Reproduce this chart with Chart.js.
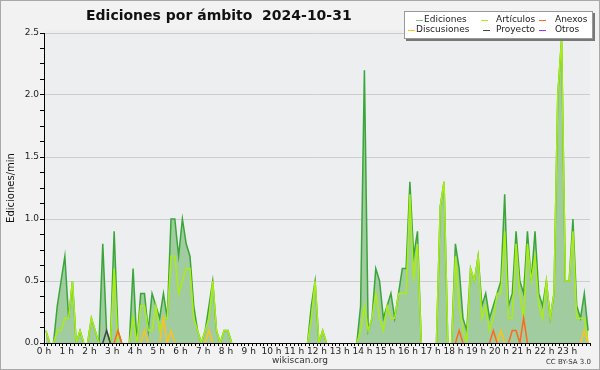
<!DOCTYPE html>
<html>
<head>
<meta charset="utf-8">
<title>Ediciones por ámbito 2024-10-31</title>
<script src="https://cdn.jsdelivr.net/npm/chart.js@4.4.1/dist/chart.umd.min.js"></script>
<style>
  html, body { margin: 0; padding: 0; background: #f2f2f2; }
  canvas { display: block; }
</style>
</head>
<body>
<canvas id="chart" width="600" height="370"></canvas>
<script>
// ── Data: edits per minute, averaged over 10-minute bins (6 per hour) ──
const binMinutes = 10;

// one row per hour, 00h → 23h
const ediciones = [
  0.1, 0, 0, 0.3, 0.5, 0.7,
  0.2, 0.5, 0, 0.1, 0, 0,
  0.2, 0.1, 0, 0.8, 0.1, 0,
  0.9, 0.1, 0, 0, 0, 0.6,
  0, 0.4, 0.4, 0.1, 0.4, 0.3,
  0.2, 0.4, 0.2, 1.0, 1.0, 0.7,
  1.0, 0.8, 0.7, 0.3, 0.1, 0,
  0.1, 0.3, 0.5, 0.1, 0, 0.1,
  0.1, 0, 0, 0, 0, 0,
  0, 0, 0, 0, 0, 0,
  0, 0, 0, 0, 0, 0,
  0, 0, 0, 0, 0.3, 0.5,
  0, 0.1, 0, 0, 0, 0,
  0, 0, 0, 0, 0, 0.3,
  2.2, 0.1, 0.2, 0.6, 0.5, 0.2,
  0.3, 0.4, 0.2, 0.4, 0.6, 0.6,
  1.3, 0.7, 0.9, 0, 0, 0,
  0, 0, 1.1, 1.3, 0, 0,
  0.8, 0.6, 0.2, 0.1, 0.6, 0.5,
  0.7, 0.3, 0.4, 0.2, 0.3, 0.4,
  0.5, 1.2, 0.3, 0.4, 0.9, 0.5,
  0.4, 0.9, 0.5, 0.9, 0.4, 0.3,
  0.5, 0.2, 0.4, 2.0, 2.45, 0.5,
  0.5, 1.0, 0.3, 0.2, 0.4, 0.1,
];

const articulos = [
  0.1, 0, 0, 0.1, 0.1, 0.2,
  0.2, 0.5, 0, 0.1, 0, 0,
  0.2, 0.1, 0, 0, 0, 0,
  0.6, 0, 0, 0, 0, 0.2,
  0, 0.3, 0.3, 0.1, 0.1, 0.3,
  0.1, 0.2, 0.2, 0.7, 0.7, 0.4,
  0.5, 0.6, 0.6, 0.2, 0.1, 0,
  0.1, 0.2, 0.5, 0.1, 0, 0.1,
  0.1, 0, 0, 0, 0, 0,
  0, 0, 0, 0, 0, 0,
  0, 0, 0, 0, 0, 0,
  0, 0, 0, 0, 0.2, 0.5,
  0, 0.1, 0, 0, 0, 0,
  0, 0, 0, 0, 0, 0.1,
  0.3, 0.1, 0.2, 0.4, 0.2, 0.1,
  0.3, 0.2, 0.2, 0.4, 0.4, 0.4,
  1.2, 0.5, 0.8, 0, 0, 0,
  0, 0, 1.1, 1.3, 0, 0,
  0.7, 0.3, 0.1, 0, 0.6, 0.5,
  0.7, 0.2, 0.3, 0.1, 0.2, 0.4,
  0.4, 0.9, 0.2, 0.2, 0.8, 0.4,
  0.2, 0.8, 0.5, 0.7, 0.3, 0.2,
  0.5, 0.2, 0.4, 2.0, 2.45, 0.5,
  0.5, 0.9, 0.2, 0.2, 0.2, 0,
];

const discusiones = [
  0, 0, 0, 0, 0, 0,   0, 0, 0, 0, 0, 0,   0, 0, 0, 0, 0, 0,   0, 0, 0, 0, 0, 0,
  0, 0, 0.1, 0, 0, 0, 0, 0.2, 0, 0.1, 0, 0, 0, 0, 0, 0, 0, 0,   0, 0.1, 0, 0, 0, 0,
  0, 0, 0, 0, 0, 0,   0, 0, 0, 0, 0, 0,   0, 0, 0, 0, 0, 0,   0, 0, 0, 0, 0, 0,
  0, 0, 0, 0, 0, 0,   0, 0, 0, 0, 0, 0,   0, 0, 0, 0, 0, 0,   0, 0, 0, 0, 0, 0,
  0, 0, 0, 0, 0, 0,   0, 0, 0, 0, 0, 0,   0, 0, 0, 0, 0, 0,   0, 0, 0, 0, 0, 0,
  0.1, 0, 0, 0, 0, 0, 0, 0, 0, 0, 0, 0,   0, 0, 0, 0, 0, 0,   0, 0, 0, 0, 0.1, 0,
];

const anexos = [
  0, 0, 0, 0, 0, 0,   0, 0, 0, 0, 0, 0,   0, 0, 0, 0, 0, 0,   0, 0.1, 0, 0, 0, 0,
  0, 0, 0, 0, 0, 0,   0, 0, 0, 0, 0, 0,   0, 0, 0, 0, 0, 0,   0, 0, 0, 0, 0, 0,
  0, 0, 0, 0, 0, 0,   0, 0, 0, 0, 0, 0,   0, 0, 0, 0, 0, 0,   0, 0, 0, 0, 0, 0,
  0, 0, 0, 0, 0, 0,   0, 0, 0, 0, 0, 0,   0, 0, 0, 0, 0, 0,   0, 0, 0, 0, 0, 0,
  0, 0, 0, 0, 0, 0,   0, 0, 0, 0, 0, 0,   0, 0.1, 0, 0, 0, 0, 0, 0, 0, 0, 0.1, 0,
  0, 0, 0, 0.1, 0.1, 0, 0.2, 0, 0, 0, 0, 0, 0, 0, 0, 0, 0, 0,   0, 0, 0, 0, 0, 0,
];

const proyecto = [
  0, 0, 0, 0, 0, 0,   0, 0, 0, 0, 0, 0,   0, 0, 0, 0, 0.1, 0, 0, 0, 0, 0, 0, 0,
  0, 0, 0, 0, 0, 0,   0, 0, 0, 0, 0, 0,   0, 0, 0, 0, 0, 0,   0, 0, 0, 0, 0, 0,
  0, 0, 0, 0, 0, 0,   0, 0, 0, 0, 0, 0,   0, 0, 0, 0, 0, 0,   0, 0, 0, 0, 0, 0,
  0, 0, 0, 0, 0, 0,   0, 0, 0, 0, 0, 0,   0, 0, 0, 0, 0, 0,   0, 0, 0, 0, 0, 0,
  0, 0, 0, 0, 0, 0,   0, 0, 0, 0, 0, 0,   0, 0, 0, 0, 0, 0,   0, 0, 0, 0, 0, 0,
  0, 0, 0, 0, 0, 0,   0, 0, 0, 0, 0, 0,   0, 0, 0, 0, 0, 0,   0, 0, 0, 0, 0, 0,
];

const otros = [
  0, 0, 0, 0, 0, 0,   0, 0, 0, 0, 0, 0,   0, 0, 0, 0, 0, 0,   0, 0, 0, 0, 0, 0,
  0, 0, 0, 0, 0, 0,   0, 0, 0, 0, 0, 0,   0, 0, 0, 0, 0, 0,   0, 0, 0, 0, 0, 0,
  0, 0, 0, 0, 0, 0,   0, 0, 0, 0, 0, 0,   0, 0, 0, 0, 0, 0,   0, 0, 0, 0, 0, 0,
  0, 0, 0, 0, 0, 0,   0, 0, 0, 0, 0, 0,   0, 0, 0, 0, 0, 0,   0, 0, 0, 0, 0, 0,
  0, 0, 0, 0, 0, 0,   0, 0, 0, 0, 0, 0,   0, 0, 0, 0, 0, 0,   0, 0, 0, 0, 0, 0,
  0, 0, 0, 0, 0, 0,   0, 0, 0, 0, 0, 0,   0, 0, 0, 0, 0, 0,   0, 0, 0, 0, 0, 0,
];

const yTicksMajor = [0, 0.5, 1.0, 1.5, 2.0, 2.5];

// ── Chart ──
const FONT = "'DejaVu Sans', 'Liberation Sans', sans-serif";
Chart.defaults.font.family = FONT;
Chart.defaults.font.size = 9;
Chart.defaults.color = "#222";

// points sit in the middle of their 10-minute bin
const toPoints = (arr) => arr.map((v, i) => ({ x: i * binMinutes + binMinutes / 2, y: v }));

// segments lying flat on zero are not stroked (the axis line shows instead)
const hideFlatZero = {
  borderColor: (ctx) => (ctx.p0.parsed.y === 0 && ctx.p1.parsed.y === 0 ? "rgba(0,0,0,0)" : undefined),
};

// legend slots: [line start x, text x, row y]
const legendSlots = {
  "Ediciones": [416, 424, 20],
  "Discusiones": [408, 416, 30],
  "Artículos": [481, 496, 20],
  "Proyecto": [483, 496, 30],
  "Anexos": [539, 555, 20],
  "Otros": [539, 555, 30],
};

const chromePlugin = {
  id: "chrome",
  beforeDraw(chart) {
    const { ctx, chartArea: a } = chart;
    ctx.save();
    ctx.fillStyle = "#f2f2f2";
    ctx.fillRect(0, 0, chart.width, chart.height);
    ctx.fillStyle = "#eceef0";
    ctx.fillRect(a.left, a.top - 3, a.right - a.left, a.bottom - a.top + 3);
    ctx.restore();
  },
  afterDraw(chart) {
    const { ctx } = chart;
    ctx.save();

    // title
    ctx.fillStyle = "#111";
    ctx.font = `bold 14px ${FONT}`;
    ctx.textBaseline = "middle";
    ctx.textAlign = "left";
    ctx.fillText("Ediciones por ámbito  2024-10-31", 86, 16);

    // legend box with shadow
    ctx.fillStyle = "#777";
    ctx.fillRect(406, 13, 189, 28);
    ctx.fillStyle = "#fff";
    ctx.fillRect(404, 11, 189, 28);
    ctx.strokeStyle = "#999";
    ctx.lineWidth = 1;
    ctx.strokeRect(404.5, 11.5, 188, 27);

    ctx.font = `9px ${FONT}`;
    chart.data.datasets.forEach((ds) => {
      const slot = legendSlots[ds.label];
      if (!slot) return;
      const [lx, tx, ty] = slot;
      ctx.strokeStyle = ds.legendColor || ds.borderColor;
      ctx.lineWidth = 1;
      ctx.beginPath();
      ctx.moveTo(lx, ty + 0.5);
      ctx.lineTo(lx + 7, ty + 0.5);
      ctx.stroke();
      ctx.fillStyle = "#222";
      ctx.fillText(ds.label, tx, ty);
    });

    // footer
    ctx.fillStyle = "#333";
    ctx.font = `9px ${FONT}`;
    ctx.textAlign = "center";
    ctx.fillText("wikiscan.org", 300, 361);
    ctx.font = `7px ${FONT}`;
    ctx.textAlign = "right";
    ctx.fillText("CC BY-SA 3.0", 591, 362);

    // outer frame
    ctx.strokeStyle = "#a8a8a8";
    ctx.strokeRect(0.5, 0.5, chart.width - 1, chart.height - 1);
    ctx.restore();
  },
};

new Chart(document.getElementById("chart"), {
  type: "line",
  data: {
    datasets: [
      {
        label: "Ediciones",
        data: toPoints(ediciones),
        borderColor: "#3aa63a",
        legendColor: "#7cc87c",
        backgroundColor: "#a0cca0",
        fill: "origin",
        borderWidth: 1.5,
        segment: hideFlatZero,
        order: 10,
      },
      {
        label: "Artículos",
        data: toPoints(articulos),
        borderColor: "#aaee11",
        borderWidth: 1.5,
        segment: hideFlatZero,
        order: 5,
      },
      {
        label: "Anexos",
        data: toPoints(anexos),
        borderColor: "#ff6a1a",
        borderWidth: 1.5,
        segment: hideFlatZero,
        order: 3,
      },
      {
        label: "Discusiones",
        data: toPoints(discusiones),
        borderColor: "#ffc21a",
        borderWidth: 1.5,
        segment: hideFlatZero,
        order: 4,
      },
      {
        label: "Proyecto",
        data: toPoints(proyecto),
        borderColor: "#444",
        borderWidth: 1.5,
        segment: hideFlatZero,
        order: 2,
      },
      {
        label: "Otros",
        data: toPoints(otros),
        borderColor: "#9933ff",
        borderWidth: 1.5,
        segment: hideFlatZero,
        order: 1,
      },
    ],
  },
  options: {
    responsive: false,
    animation: false,
    events: [],
    elements: { point: { radius: 0 }, line: { tension: 0 } },
    layout: { padding: { left: 0, right: 10, top: 33, bottom: 0 } },
    plugins: { legend: { display: false }, title: { display: false }, tooltip: { enabled: false } },
    scales: {
      x: {
        type: "linear",
        min: 0,
        max: 24 * 60,
        z: 1,
        border: { color: "#000", width: 1 },
        grid: { drawOnChartArea: false, drawTicks: true, tickLength: 3, color: "#000" },
        ticks: {
          stepSize: binMinutes,
          autoSkip: false,
          maxTicksLimit: 200,
          maxRotation: 0,
          minRotation: 0,
          padding: 0,
          color: "#222",
          callback: (v) => (v % 60 === 0 && v < 24 * 60 ? `${v / 60} h` : ""),
        },
        afterFit: (s) => { s.height = 27; },
      },
      y: {
        min: 0,
        max: 2.5,
        border: { color: "#000", width: 1 },
        grid: {
          color: (c) => (yTicksMajor.includes(c.tick.value) && c.tick.value > 0 ? "#cdcdcd" : "rgba(0,0,0,0)"),
          tickColor: "#000",
          tickLength: 4,
        },
        ticks: {
          stepSize: 0.125,
          maxTicksLimit: 50,
          padding: 1,
          color: "#222",
          callback: (v) => (yTicksMajor.includes(v) ? v.toFixed(1) : ""),
        },
        title: {
          display: true,
          text: "Ediciones/min",
          font: { size: 10 },
          color: "#111",
          padding: { top: 5, bottom: 0 },
        },
        afterFit: (s) => { s.width = 44; },
      },
    },
  },
  plugins: [chromePlugin],
});
</script>
</body>
</html>
